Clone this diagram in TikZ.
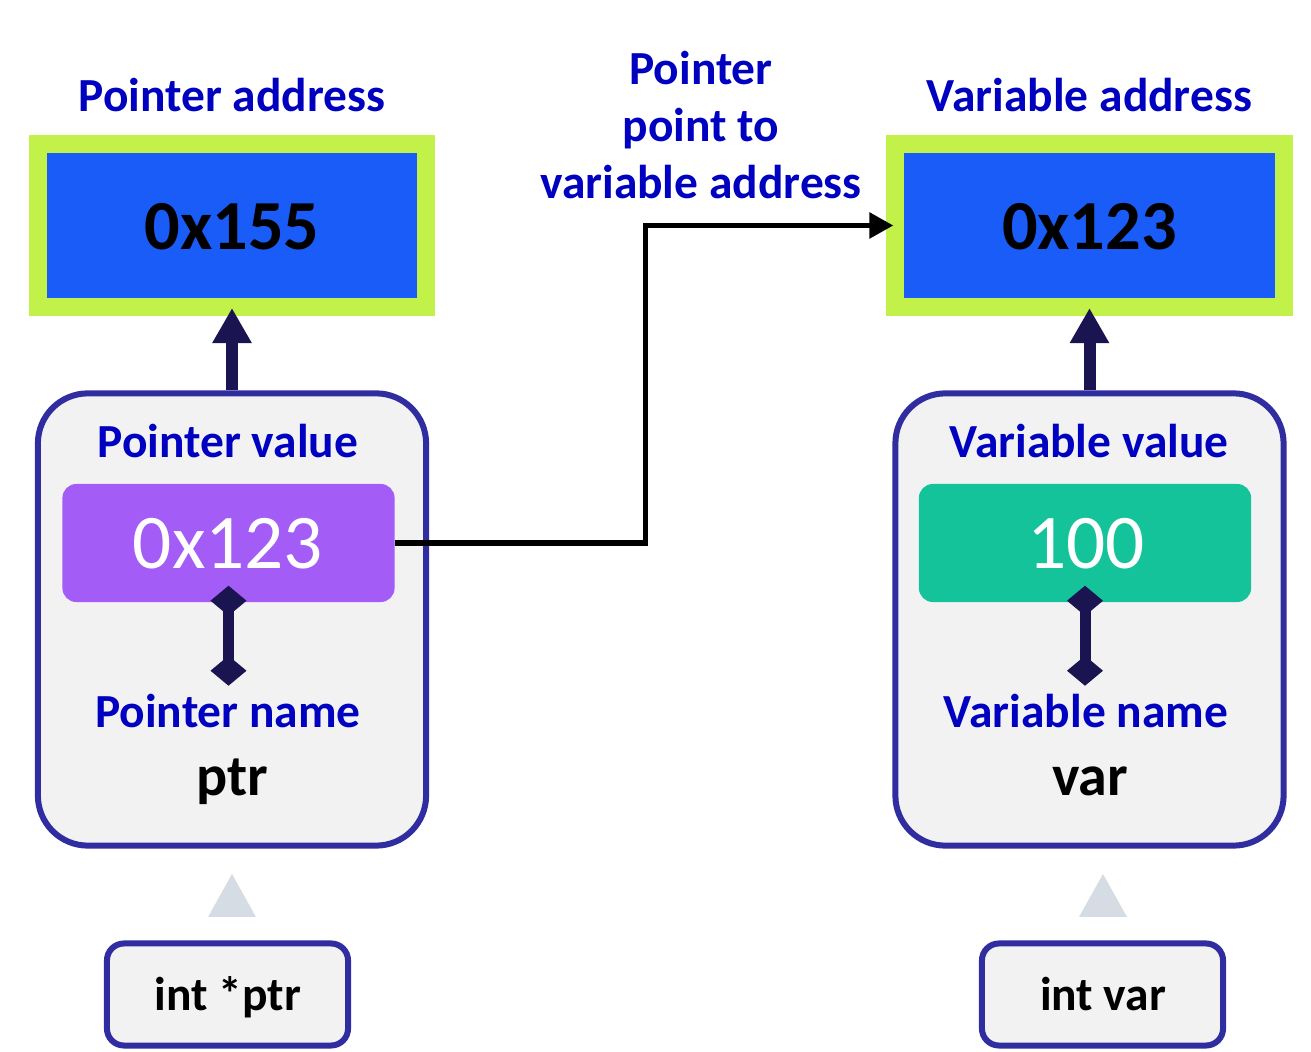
\documentclass[tikz,border=0pt]{standalone}
\usepackage{fontspec}
\setmainfont{Carlito}
\usetikzlibrary{positioning,arrows.meta,calc}

\definecolor{lblblue}{HTML}{0000C0}
\definecolor{addrblue}{HTML}{1A5CF8}
\definecolor{limegrn}{HTML}{C2F24A}
\definecolor{frameblue}{HTML}{2F2DA0}
\definecolor{panelgray}{HTML}{F2F2F2}
\definecolor{ptrpurple}{HTML}{A35CF5}
\definecolor{varteal}{HTML}{14C39A}
\definecolor{darknavy}{HTML}{1A1450}
\definecolor{hintgray}{HTML}{D6DCE4}

\tikzset{
  addrbox/.style={draw=limegrn, fill=addrblue, line width=0.18cm,
    minimum width=3.88cm, minimum height=1.63cm},
  membox/.style={draw=frameblue, fill=panelgray, line width=0.06cm,
    rounded corners=0.5cm, minimum width=3.88cm, minimum height=4.52cm},
  valbox/.style={rounded corners=0.14cm, minimum width=3.32cm, minimum height=1.18cm},
  declbox/.style={draw=frameblue, fill=panelgray, line width=0.06cm,
    rounded corners=0.17cm, minimum width=2.41cm, minimum height=1.02cm},
  lbl/.style={text=lblblue, anchor=base, font=\fontsize{13.5}{16.2}\selectfont\bfseries},
  bigtxt/.style={anchor=base, font=\fontsize{20}{24}\selectfont\bfseries},
  valtxt/.style={anchor=base, text=white, font=\fontsize{22}{26}\selectfont},
  nametxt/.style={anchor=base, font=\fontsize{16.5}{20}\selectfont\bfseries},
  decltxt/.style={anchor=base, font=\fontsize{13.5}{16}\selectfont\bfseries},
  uparrow/.style={draw=darknavy, line width=0.12cm,
    -{Triangle[length=0.35cm,width=0.37cm]}},
  linkbar/.style={draw=darknavy, line width=0.11cm,
    {Diamond[length=0.30cm,width=0.36cm]}-{Diamond[length=0.30cm,width=0.36cm]}},
  ptrlink/.style={draw=black, line width=0.055cm, -{Triangle[length=0.24cm,width=0.25cm]}},
  hint/.style={fill=hintgray}
}

\begin{document}
\begin{tikzpicture}[x=0.01cm,y=-0.01cm]
  \useasboundingbox (0,0) rectangle (1311,1052);

  % pointer side
  \node[lbl] (paddrlbl) at (232,112) {Pointer address};
  \node[addrbox] (paddr) at (232,225.5) {};
  \node[bigtxt] at (232,250) {0x155};
  \node[membox] (pbox) at (232,619.5) {};
  \node[lbl] (pvallbl) at (228,458) {Pointer value};
  \node[valbox, fill=ptrpurple] (pval) at (228.5,543) {};
  \node[valtxt] at (228,569) {0x123};
  \node[lbl] (pnamelbl) at (228,728) {Pointer name};
  \node[nametxt] (pname) at (232,796) {ptr};
  \node[declbox] (pdecl) at (227.5,994.5) {};
  \node[decltxt] at (228,1011) {int *ptr};

  % variable side
  \node[lbl] (vaddrlbl) at (1089.5,112) {Variable address};
  \node[addrbox] (vaddr) at (1089.5,225.5) {};
  \node[bigtxt] at (1089.5,250) {0x123};
  \node[membox] (vbox) at (1089.5,619.5) {};
  \node[lbl] (vvallbl) at (1089,458) {Variable value};
  \node[valbox, fill=varteal] (vval) at (1085,543) {};
  \node[valtxt] at (1086,569) {100};
  \node[lbl] (vnamelbl) at (1086,728) {Variable name};
  \node[nametxt] (vname) at (1090,796) {var};
  \node[declbox] (vdecl) at (1102.5,994.5) {};
  \node[decltxt] at (1103,1011) {int var};

  \node[lbl, anchor=center, align=center] (midlbl) at (701,125)
    {Pointer\\point to\\variable address};

  % connectors
  \draw[uparrow] (pbox.north) -- ([yshift=0.08cm]paddr.south);
  \draw[uparrow] (vbox.north) -- ([yshift=0.08cm]vaddr.south);
  \draw[linkbar] ($(pval.south)+(0,-17)$) -- ($(pval.south)+(0,83)$);
  \draw[linkbar] ($(vval.south)+(0,-17)$) -- ($(vval.south)+(0,83)$);
  \draw[ptrlink] (pval.east) -- ++(250,0) |- ([xshift=0.07cm]vaddr.west);

  \fill[hint] (232,874) -- (256,917) -- (208,917) -- cycle;
  \fill[hint] (1103,874) -- (1127,917) -- (1079,917) -- cycle;
\end{tikzpicture}
\end{document}
